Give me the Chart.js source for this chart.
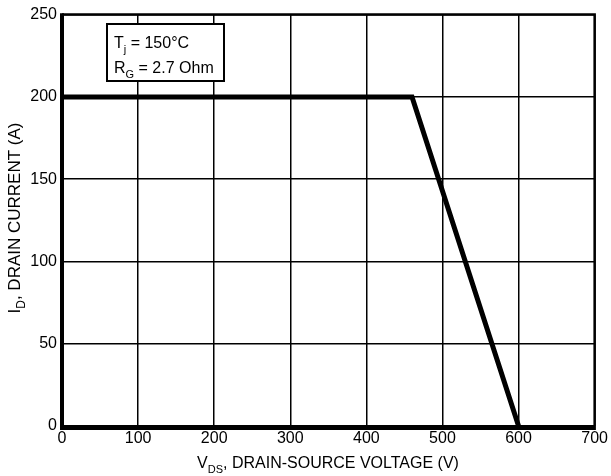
<!DOCTYPE html>
<html>
<head>
<meta charset="utf-8">
<script src="https://cdn.jsdelivr.net/npm/chart.js@4/dist/chart.umd.min.js"></script>
<style>
html,body{margin:0;padding:0;background:#fff;}
canvas{display:block;}
</style>
</head>
<body>
<canvas id="c" width="611" height="476"></canvas>
<script>
// Data
const voltage = [0, 460, 600];
const current = [200, 200, 0];
const xTicks = [0, 100, 200, 300, 400, 500, 600, 700];
const yTicks = [0, 50, 100, 150, 200, 250];
const legendLines = [["T", "j", " = 150°C"], ["R", "G", " = 2.7 Ohm"]];
const xTitle = ["V", "DS", ", DRAIN-SOURCE VOLTAGE (V)"];
const yTitle = ["I", "D", ", DRAIN CURRENT (A)"];

const FONT = "'Liberation Sans', Arial, sans-serif";

function drawSub(ctx, parts, x, y, size) {
  ctx.textBaseline = 'alphabetic';
  ctx.textAlign = 'left';
  ctx.font = size + "px " + FONT;
  let w = 0;
  ctx.fillText(parts[0], x + w, y); w += ctx.measureText(parts[0]).width;
  ctx.font = Math.round(size * 0.7) + "px " + FONT;
  ctx.fillText(parts[1], x + w, y + size * 0.3); w += ctx.measureText(parts[1]).width;
  ctx.font = size + "px " + FONT;
  ctx.fillText(parts[2], x + w, y); w += ctx.measureText(parts[2]).width;
  return w;
}
function measureSub(ctx, parts, size) {
  ctx.font = size + "px " + FONT;
  let w = ctx.measureText(parts[0]).width + ctx.measureText(parts[2]).width;
  ctx.font = Math.round(size * 0.7) + "px " + FONT;
  w += ctx.measureText(parts[1]).width;
  return w;
}

const overlay = {
  id: 'overlay',
  afterDraw(chart) {
    const ctx = chart.ctx;
    const a = chart.chartArea;
    ctx.save();
    ctx.fillStyle = '#000';
    ctx.strokeStyle = '#000';
    ctx.lineWidth = 2.5;
    ctx.beginPath();
    ctx.moveTo(a.left, a.top); ctx.lineTo(a.right, a.top); ctx.lineTo(a.right, a.bottom);
    ctx.stroke();
    ctx.lineWidth = 4;
    ctx.beginPath();
    ctx.moveTo(a.left, a.top - 1.25); ctx.lineTo(a.left, a.bottom + 2); ctx.lineTo(a.right + 1.25, a.bottom + 2);
    ctx.stroke();
    // legend box
    const bx = 107, by = 24, bw = 117, bh = 57;
    ctx.fillStyle = '#fff';
    ctx.fillRect(bx, by, bw, bh);
    ctx.lineWidth = 2;
    ctx.strokeRect(bx, by, bw, bh);
    ctx.fillStyle = '#000';
    drawSub(ctx, legendLines[0], 114, 48, 16);
    drawSub(ctx, legendLines[1], 114, 73, 16);
    // x title
    const xw = measureSub(ctx, xTitle, 16);
    drawSub(ctx, xTitle, 328 - xw / 2, 468, 16);
    // y title
    const yw = measureSub(ctx, yTitle, 17);
    ctx.translate(19.5, 218);
    ctx.rotate(-Math.PI / 2);
    drawSub(ctx, yTitle, -yw / 2, 0, 17);
    ctx.restore();
  }
};

new Chart(document.getElementById('c'), {
  type: 'scatter',
  data: {
    datasets: [{
      data: voltage.map((v, i) => ({x: v, y: current[i]})),
      showLine: true,
      borderColor: '#000',
      borderWidth: 5,
      pointRadius: 0,
      fill: false,
      tension: 0
    }]
  },
  options: {
    responsive: false,
    animation: false,
    devicePixelRatio: 1,
    layout: {padding: {top: 14, right: 14, left: 0, bottom: 0}},
    plugins: {legend: {display: false}, tooltip: {enabled: false}},
    scales: {
      x: {
        type: 'linear', min: 0, max: 700,
        afterBuildTicks: s => { s.ticks = xTicks.map(v => ({value: v})); },
        afterFit: s => { s.height = 50; },
        grid: {color: '#000', lineWidth: 1.5, drawTicks: false},
        border: {display: false},
        ticks: {color: '#000', font: {family: FONT, size: 16}, padding: 3, maxRotation: 0}
      },
      y: {
        type: 'linear', min: 0, max: 250,
        afterBuildTicks: s => { s.ticks = yTicks.map(v => ({value: v})); },
        afterFit: s => { s.width = 62; },
        grid: {color: '#000', lineWidth: 1.5, drawTicks: false},
        border: {display: false},
        ticks: {color: '#000', font: {family: FONT, size: 16}, padding: 5}
      }
    }
  },
  plugins: [overlay]
});
</script>
</body>
</html>
